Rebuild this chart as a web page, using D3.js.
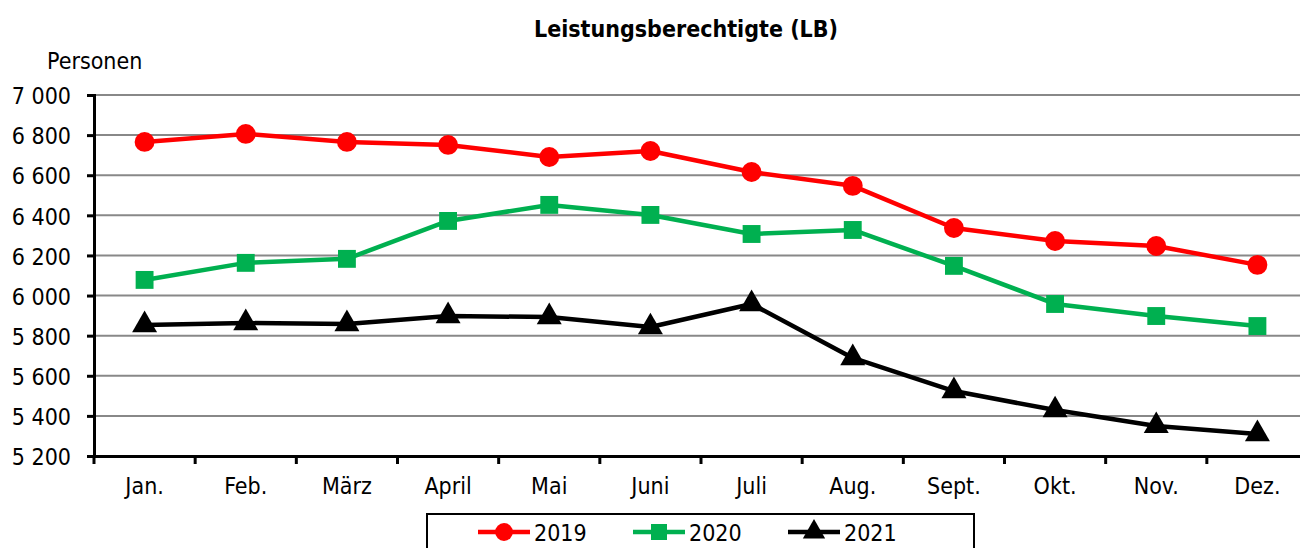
<!DOCTYPE html>
<html>
<head>
<meta charset="utf-8">
<script src="https://cdn.jsdelivr.net/npm/d3@7"></script>
<style>
  body { margin: 0; background: #fff; }
  text { font-family: "DejaVu Sans Condensed", "DejaVu Sans", sans-serif; fill: #000; }
</style>
</head>
<body>
<svg id="chart" width="1300" height="548"></svg>
<script>
var months = ["Jan.", "Feb.", "März", "April", "Mai", "Juni", "Juli", "Aug.", "Sept.", "Okt.", "Nov.", "Dez."];
var yTicks = [5200, 5400, 5600, 5800, 6000, 6200, 6400, 6600, 6800, 7000];
var values2019 = [6766, 6806, 6766, 6751, 6691, 6721, 6616, 6547, 6337, 6272, 6247, 6153];
var values2020 = [6078, 6163, 6183, 6372, 6452, 6402, 6307, 6327, 6148, 5958, 5898, 5848];
var values2021 = [5853, 5863, 5858, 5898, 5893, 5843, 5958, 5689, 5524, 5429, 5350, 5310];

var series = [
  { name: "2019", values: values2019, color: "#ff0000", symbol: d3.symbolCircle, size: 310 },
  { name: "2020", values: values2020, color: "#00b050", symbol: d3.symbolSquare, size: 320 },
  { name: "2021", values: values2021, color: "#000000", symbol: d3.symbolTriangle, size: 270 }
];

var svg = d3.select("#chart");
var plotL = 94, plotR = 1308, plotT = 95, plotB = 456;

var x = d3.scaleBand().domain(months).range([plotL, plotR]);
var y = d3.scaleLinear().domain([5200, 7000]).range([plotB, plotT]);

// title
svg.append("text")
    .attr("x", 686).attr("y", 37)
    .attr("text-anchor", "middle")
    .style("font-size", "23px")
    .style("font-weight", "bold")
    .text("Leistungsberechtigte (LB)");

svg.append("text")
    .attr("x", 47).attr("y", 69)
    .style("font-size", "23px")
    .text("Personen");

// grid
svg.append("g").selectAll("line")
    .data(yTicks.slice(1))
    .enter().append("line")
    .attr("x1", plotL).attr("x2", plotR)
    .attr("y1", function(d) { return y(d); })
    .attr("y2", function(d) { return y(d); })
    .attr("stroke", "#888").attr("stroke-width", 2);

// y axis
var yAxis = svg.append("g")
    .attr("transform", "translate(" + plotL + ",0)")
    .call(d3.axisLeft(y).tickValues(yTicks).tickSize(7).tickPadding(16)
      .tickFormat(function(d) { return d3.format(",")(d).replace(",", " "); }));
yAxis.selectAll("text").style("font-size", "23px").attr("dy", "0.38em");
yAxis.selectAll("line, path").attr("stroke", "#000").attr("stroke-width", 3);

// x axis
var xAxis = svg.append("g")
    .attr("transform", "translate(0," + plotB + ")")
    .call(d3.axisBottom(x).tickSize(0).tickPadding(22));
xAxis.selectAll("text").style("font-size", "23px");
xAxis.select("path").attr("stroke", "#000").attr("stroke-width", 3);
xAxis.selectAll("line.sep")
    .data(months)
    .enter().append("line")
    .attr("class", "sep")
    .attr("x1", function(d) { return x(d); })
    .attr("x2", function(d) { return x(d); })
    .attr("y1", 0).attr("y2", 8)
    .attr("stroke", "#000").attr("stroke-width", 3);

// lines
var line = d3.line()
    .x(function(d, i) { return x(months[i]) + x.bandwidth() / 2; })
    .y(function(d) { return y(d); });

series.forEach(function(s) {
  svg.append("path")
      .datum(s.values)
      .attr("d", line)
      .attr("fill", "none")
      .attr("stroke", s.color)
      .attr("stroke-width", 4.5)
      .attr("stroke-linejoin", "round");
  svg.append("g").selectAll("path")
      .data(s.values)
      .enter().append("path")
      .attr("d", d3.symbol().type(s.symbol).size(s.size))
      .attr("fill", s.color)
      .attr("transform", function(d, i) {
        return "translate(" + (x(months[i]) + x.bandwidth() / 2) + "," + y(d) + ")";
      });
});

// legend
var legend = svg.append("g");
legend.append("rect")
    .attr("x", 427).attr("y", 514)
    .attr("width", 547).attr("height", 60)
    .attr("fill", "#fff").attr("stroke", "#000").attr("stroke-width", 2);

series.forEach(function(s, i) {
  var lx = 478 + i * 155, ly = 532;
  legend.append("line")
      .attr("x1", lx).attr("x2", lx + 52)
      .attr("y1", ly).attr("y2", ly)
      .attr("stroke", s.color).attr("stroke-width", 4.5);
  legend.append("path")
      .attr("d", d3.symbol().type(s.symbol).size(s.size * 0.8))
      .attr("fill", s.color)
      .attr("transform", "translate(" + (lx + 26) + "," + ly + ")");
  legend.append("text")
      .attr("x", lx + 56).attr("y", ly)
      .attr("dy", "0.38em")
      .style("font-size", "23px")
      .text(s.name);
});
</script>
</body>
</html>
